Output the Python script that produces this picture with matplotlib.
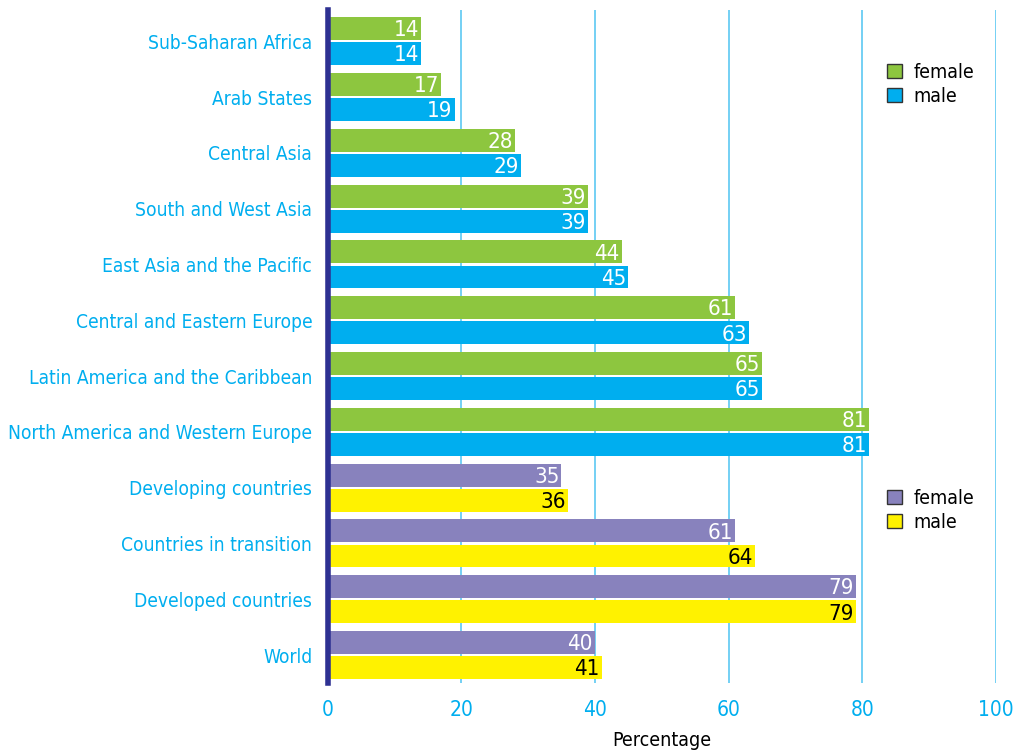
import matplotlib.pyplot as plt
from matplotlib.patches import Patch
import numpy as np

plt.rcParams['font.family'] = ['DejaVu Sans']
plt.rcParams['font.stretch'] = 'condensed'

regions = ['Sub-Saharan Africa', 'Arab States', 'Central Asia', 'South and West Asia',
           'East Asia and the Pacific', 'Central and Eastern Europe',
           'Latin America and the Caribbean', 'North America and Western Europe',
           'Developing countries', 'Countries in transition', 'Developed countries', 'World']
female = [14, 17, 28, 39, 44, 61, 65, 81, 35, 61, 79, 40]
male = [14, 19, 29, 39, 45, 63, 65, 81, 36, 64, 79, 41]
n_regions = 8  # first 8 rows are regions, the rest are country groups

GREEN = '#8dc63f'
BLUE = '#00aeef'
PURPLE = '#8882bd'
YELLOW = '#fff200'
CYAN = '#00aeef'
NAVY = '#2e3192'

fig = plt.figure(figsize=(10.19, 7.51), dpi=100)
ax = fig.add_axes([327.5 / 1019, 1 - 683 / 751, (996 - 327.5) / 1019, (683 - 10) / 751])

y = np.arange(len(regions))
h = 0.41
off = 0.225
for i in range(len(regions)):
    fc = GREEN if i < n_regions else PURPLE
    mc = BLUE if i < n_regions else YELLOW
    ax.barh(y[i] - off, female[i], height=h, color=fc, zorder=3)
    ax.barh(y[i] + off, male[i], height=h, color=mc, zorder=3)
    ax.text(female[i] - 0.3, y[i] - off + 0.03, str(female[i]), ha='right', va='center',
            color='white', fontsize=16, zorder=4)
    ax.text(male[i] - 0.3, y[i] + off + 0.03, str(male[i]), ha='right', va='center',
            color='white' if i < n_regions else 'black', fontsize=16, zorder=4)

ax.set_xlim(0, 100)
ax.set_ylim(11.5, -0.56)
ax.set_yticks(y)
ax.set_yticklabels(regions, color=CYAN, fontsize=13.8)
ax.set_xticks([0, 20, 40, 60, 80, 100])
ax.tick_params(axis='x', colors=CYAN, labelsize=15, length=0, pad=12)
ax.tick_params(axis='y', length=0, pad=11)

for xv in [20, 40, 60, 80, 100]:
    ax.axvline(xv, color='#5cc8f2', linewidth=1.2, zorder=1)

for s in ['top', 'right', 'bottom']:
    ax.spines[s].set_visible(False)
ax.spines['left'].set_color(NAVY)
ax.spines['left'].set_linewidth(4)
ax.spines['left'].set_zorder(5)

ax.set_xlabel('Percentage', fontsize=14, labelpad=8)

leg_style = dict(loc='upper left', frameon=False, fontsize=14, handlelength=0.75,
                 handleheight=0.75, handletextpad=0.6, labelspacing=0.25, borderpad=0)
leg1 = ax.legend(handles=[Patch(facecolor=GREEN, edgecolor='#333333', label='female'),
                          Patch(facecolor=BLUE, edgecolor='#333333', label='male')],
                 bbox_to_anchor=(0.823, 0.936), **leg_style)
ax.add_artist(leg1)
ax.legend(handles=[Patch(facecolor=PURPLE, edgecolor='#333333', label='female'),
                   Patch(facecolor=YELLOW, edgecolor='#333333', label='male')],
          bbox_to_anchor=(0.823, 0.303), **leg_style)

fig.savefig('out.png', dpi=100)
